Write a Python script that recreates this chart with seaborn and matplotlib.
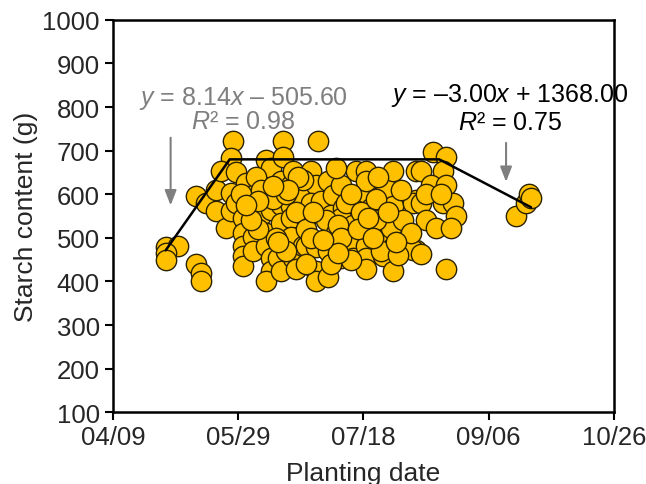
import numpy as np
import pandas as pd
import matplotlib
matplotlib.use("Agg")
import matplotlib.pyplot as plt
import seaborn as sns

# planting date as day of year, starch content in g
planting_doy = [
    120, 125, 120, 120, 132, 134, 134, 132, 136, 140, 140, 144, 147, 146, 142, 148,
    146, 146, 148, 152, 151, 151, 151, 151, 151, 155, 155, 155, 158, 160, 162, 161,
    160, 160, 162, 162, 162, 160, 166, 166, 166, 165, 166, 167, 167, 170, 171, 170,
    170, 170, 171, 172, 174, 175,
    181, 178, 180, 175, 178, 176, 176, 180, 180, 180, 185, 185, 182, 187, 186, 190,
    191, 190, 191, 190, 190, 195, 196, 195, 196, 200, 200, 200, 202, 200, 200, 200,
    200, 206, 208, 211, 210, 207, 211, 211, 211, 216, 220, 220, 220,
    227, 232, 222, 231, 226, 232, 219, 222, 231, 235, 236, 224, 228, 234, 219, 222, 232,
    156, 158, 163, 168, 172, 176, 184, 188, 192, 194, 198, 204, 204, 206, 214, 215,
    213, 164, 168, 157, 153, 185, 178, 173, 188, 205, 218, 224, 230, 150, 194, 186, 176,
    189, 190, 189, 169, 163, 157, 154, 179, 183, 197, 201, 203, 209, 212, 152, 165,
    260, 264, 265, 266,
]
starch_g = [
    480, 482, 466, 449, 441, 420, 400, 595, 579, 610, 561, 522, 722, 683, 654, 651,
    602, 561, 579, 625, 545, 510, 482, 459, 436, 598, 503, 469, 552, 678, 660, 598,
    510, 482, 563, 453, 423, 400, 630, 575, 533, 453, 423, 722, 685, 621, 653, 572,
    545, 503, 453, 429, 598, 482,
    722, 653, 621, 632, 579, 545, 482, 480, 423, 400, 411, 630, 584, 598, 552, 621,
    568, 545, 499, 476, 453, 529, 482, 453, 653, 653, 602, 630, 568, 522, 482, 453,
    429, 510, 614, 572, 522, 459, 653, 480, 423, 482, 471, 653, 586,
    697, 685, 653, 653, 621, 621, 579, 579, 579, 579, 549, 540, 522, 522, 471, 464, 429,
    640, 610, 590, 600, 560, 520, 540, 510, 580, 600, 560, 590, 540, 470, 610, 540,
    460, 500, 470, 520, 580, 470, 500, 640, 660, 640, 510, 600, 600, 600, 450, 440, 440,
    530, 500, 465, 610, 620, 585, 540, 560, 495, 520, 545, 500, 560, 490, 575, 490,
    549, 579, 600, 591,
]

# segmented regression (rise, plateau, decline)
seg_doy = [120, 145.6, 229.3, 266]
plateau = 680.0

tick_doy = [99, 149, 199, 249, 299]
tick_labels = ["04/09", "05/29", "07/18", "09/06", "10/26"]

df = pd.DataFrame({"doy": planting_doy, "starch": starch_g})

sns.set_style("ticks")
plt.rcParams["font.family"] = ["Liberation Sans", "DejaVu Sans"]
plt.rcParams["mathtext.fontset"] = "custom"
plt.rcParams["mathtext.rm"] = "Liberation Sans"
plt.rcParams["mathtext.it"] = "Liberation Sans:italic"

fig = plt.figure(figsize=(6.46, 4.85), dpi=100)
ax = fig.add_axes([0.175, 0.148, 0.775, 0.809])

sns.scatterplot(data=df, x="doy", y="starch", ax=ax, s=215, color="#FFC000",
                edgecolor="#2b2200", linewidth=1.0, zorder=2, legend=False)

seg_y = [8.14 * seg_doy[0] - 505.60, plateau, plateau, -3.00 * seg_doy[3] + 1368.00]
ax.plot(seg_doy, seg_y, color="black", lw=1.8, zorder=3)

ax.set_xlim(99, 299)
ax.set_ylim(100, 1000)
ax.set_xticks(tick_doy)
ax.set_xticklabels(tick_labels)
ax.set_yticks(range(100, 1001, 100))
ax.tick_params(labelsize=18.5, width=1.5, length=6, direction="out",
               colors="black", labelcolor="#262626")
for sp in ax.spines.values():
    sp.set_linewidth(1.8)
    sp.set_color("black")
ax.set_xlabel("Planting date", fontsize=19, color="#262626", labelpad=8)
ax.set_ylabel("Starch content (g)", fontsize=19, color="#262626", labelpad=3)

gray = "#7f7f7f"
ax.text(151, 822, "$y$ = 8.14$x$ \u2013 505.60", fontsize=18, color=gray,
        ha="center", va="center")
ax.text(151, 768, "$R$\u00b2 = 0.98", fontsize=18, color=gray,
        ha="center", va="center")
ax.text(257.5, 828, "$y$ = \u20133.00$x$ + 1368.00", fontsize=18, color="black",
        ha="center", va="center")
ax.text(257.5, 766, "$R$\u00b2 = 0.75", fontsize=18, color="black",
        ha="center", va="center")

arrow = dict(arrowstyle="-|>,head_width=0.35,head_length=0.9", color=gray, lw=1.5)
ax.annotate("", xy=(122, 568), xytext=(122, 736), arrowprops=arrow)
ax.annotate("", xy=(256, 622), xytext=(256, 724), arrowprops=arrow)

fig.savefig("out.png", dpi=100)
